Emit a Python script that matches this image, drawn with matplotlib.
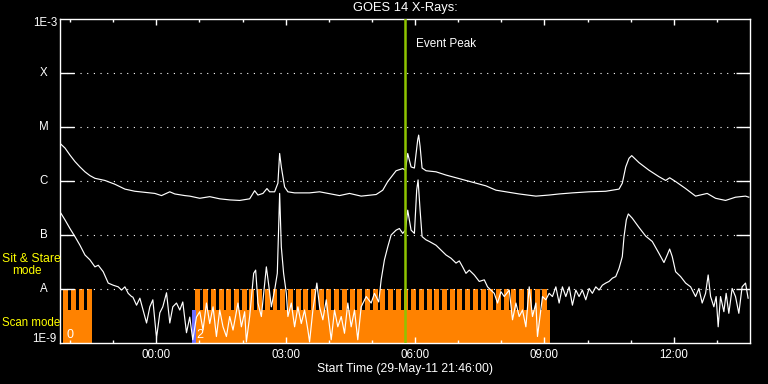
import matplotlib
matplotlib.use("Agg")
import matplotlib.pyplot as plt
from matplotlib.ticker import FixedLocator, NullLocator, NullFormatter
import numpy as np

# ---------------- data (time in hours since 29-May-11 21:46:00) ----------------
long_t = [0.023, 0.116, 0.231, 0.347, 0.463, 0.579, 0.694, 0.810, 1.042, 1.273, 1.505, 1.736,
          1.968, 2.199, 2.354, 2.546, 2.662, 2.894, 3.009, 3.241, 3.472, 3.704, 3.935, 4.167,
          4.398, 4.514, 4.590, 4.706, 4.799, 4.861, 4.977, 5.053, 5.093, 5.132, 5.208, 5.285,
          5.440, 5.787, 6.019, 6.481, 6.713, 6.984, 7.331, 7.484, 7.600, 7.794, 7.947, 8.009,
          8.063, 8.141, 8.218, 8.294, 8.317, 8.350, 8.396, 8.488, 8.720, 8.951, 9.183, 9.414,
          9.646, 9.877, 10.109, 10.340, 10.648, 11.035, 11.343, 11.574, 11.882, 12.269, 12.655,
          12.963, 13.039, 13.118, 13.194, 13.257, 13.426, 13.657, 13.889, 14.044, 14.137, 14.275,
          14.507, 14.738, 15.007, 15.201, 15.433, 15.664, 15.896, 15.972]
long_logflux = [-5.32, -5.39, -5.52, -5.64, -5.74, -5.83, -5.90, -5.95, -5.99, -6.06, -6.15, -6.19,
                -6.21, -6.23, -6.27, -6.20, -6.24, -6.27, -6.28, -6.32, -6.29, -6.33, -6.35, -6.36,
                -6.33, -6.18, -6.26, -6.23, -6.14, -6.20, -6.20, -6.04, -5.49, -5.74, -6.11, -6.20,
                -6.22, -6.22, -6.20, -6.27, -6.23, -6.28, -6.25, -6.17, -6.01, -5.81, -5.77, -5.80,
                -5.49, -5.74, -5.76, -5.24, -5.15, -5.36, -5.76, -5.81, -5.83, -5.89, -5.94, -5.99,
                -6.04, -6.09, -6.17, -6.20, -6.24, -6.28, -6.26, -6.24, -6.22, -6.20, -6.19,
                -6.15, -6.04, -5.74, -5.58, -5.53, -5.66, -5.80, -5.92, -5.99, -5.94, -6.01,
                -6.14, -6.28, -6.23, -6.32, -6.36, -6.30, -6.28, -6.30]

short_t = [0.023, 0.116, 0.231, 0.347, 0.463, 0.579, 0.694, 0.810, 0.887, 1.002, 1.118, 1.234,
           1.350, 1.428, 1.505, 1.581, 1.660, 1.690, 1.775, 1.852, 2.007, 2.083, 2.153, 2.238,
           2.315, 2.384, 2.470, 2.546, 2.616, 2.701, 2.778, 2.847, 2.933, 3.009, 3.079, 3.164,
           3.241, 3.317, 3.396, 3.472, 3.549, 3.627, 3.704, 3.780, 3.859, 3.935, 4.012, 4.127,
           4.206, 4.282, 4.322, 4.398, 4.491, 4.537, 4.590, 4.669, 4.785, 4.845, 4.901, 4.977,
           5.039, 5.093, 5.132, 5.185, 5.248, 5.285, 5.363, 5.440, 5.516, 5.595, 5.671, 5.748,
           5.787, 5.864, 5.956, 6.019, 6.095, 6.174, 6.289, 6.366, 6.442, 6.521, 6.597, 6.674,
           6.752, 6.829, 6.905, 6.984, 7.100, 7.215, 7.292, 7.391, 7.447, 7.523, 7.600, 7.678,
           7.794, 7.870, 7.947, 8.009, 8.063, 8.141, 8.218, 8.271, 8.303, 8.350, 8.396, 8.488,
           8.565, 8.720, 8.836, 8.951, 9.067, 9.183, 9.259, 9.336, 9.414, 9.491, 9.606, 9.722,
           9.838, 9.914, 9.993, 10.069, 10.146, 10.225, 10.301, 10.417, 10.493, 10.572, 10.648,
           10.725, 10.803, 10.880, 10.956, 11.035, 11.072, 11.150, 11.188, 11.266, 11.343, 11.419,
           11.498, 11.574, 11.650, 11.729, 11.806, 11.882, 11.961, 12.037, 12.113, 12.192, 12.269,
           12.345, 12.424, 12.500, 12.576, 12.655, 12.731, 12.808, 12.887, 12.963, 13.039, 13.079,
           13.132, 13.178, 13.271, 13.426, 13.581, 13.734, 13.889, 14.005, 14.081, 14.137, 14.197,
           14.275, 14.391, 14.507, 14.623, 14.738, 14.815, 14.891, 14.970, 15.030, 15.086, 15.162,
           15.215, 15.262, 15.317, 15.394, 15.447, 15.509, 15.586, 15.664, 15.741, 15.817, 15.896,
           15.956]
short_logflux = [-6.60, -6.72, -6.88, -7.03, -7.19, -7.37, -7.46, -7.59, -7.56, -7.68, -7.89, -7.93,
                 -7.96, -8.02, -7.96, -8.08, -8.14, -8.15, -8.30, -8.17, -8.63, -8.33, -8.20, -8.91,
                 -8.44, -8.33, -8.07, -8.63, -8.33, -8.26, -8.39, -8.24, -8.81, -8.52, -8.94, -8.52,
                 -8.42, -8.76, -8.26, -8.64, -8.33, -8.88, -8.39, -8.70, -8.88, -8.51, -8.76, -8.26,
                 -8.70, -8.42, -8.98, -8.51, -7.71, -7.65, -8.26, -8.51, -7.59, -7.96, -8.33, -8.02,
                 -7.71, -6.23, -7.22, -7.71, -8.08, -8.51, -8.26, -8.70, -8.33, -8.64, -8.39, -8.76,
                 -8.98, -8.39, -7.89, -8.33, -8.57, -8.20, -8.94, -8.39, -8.70, -8.51, -8.82, -8.26,
                 -8.70, -8.39, -8.94, -8.33, -8.14, -8.26, -8.08, -8.24, -7.83, -7.46, -7.22, -7.00,
                 -6.91, -6.88, -6.97, -6.91, -6.54, -6.91, -6.97, -6.17, -5.98, -6.54, -7.03, -7.09,
                 -7.12, -7.19, -7.28, -7.37, -7.43, -7.52, -7.48, -7.59, -7.71, -7.65, -7.74, -7.86,
                 -7.83, -7.96, -8.02, -8.08, -8.26, -8.05, -8.14, -8.02, -8.57, -8.26, -8.51,
                 -8.39, -8.70, -7.96, -8.51, -8.26, -8.88, -8.39, -8.14, -8.20, -8.08, -8.14,
                 -7.96, -8.26, -7.96, -8.14, -7.96, -8.30, -8.02, -8.14, -8.02, -8.20, -7.99,
                 -8.08, -7.96, -8.02, -7.93, -7.89, -7.86, -7.80, -7.77, -7.62, -7.40, -7.03,
                 -6.72, -6.61, -6.69, -6.86, -7.02, -7.12, -7.34, -7.51, -7.37, -7.26, -7.40,
                 -7.68, -7.77, -7.89, -7.96, -8.14, -7.99, -8.26, -8.08, -7.74, -8.14, -8.33,
                 -8.14, -8.70, -8.14, -8.42, -8.08, -8.45, -7.99, -8.14, -8.45, -7.96, -7.89,
                 -8.17]

# observing mode: scan-mode intervals (start, end) and sit & stare interval starts
scan_intervals = [(0.069, 0.718), (3.141, 11.366)]
stare_starts = [0.069, 0.255, 0.440, 0.625,
                3.141, 3.320, 3.498, 3.677, 3.856, 4.035, 4.213, 4.392, 4.571, 4.749,
                4.928, 5.107, 5.285, 5.464, 5.643, 5.822, 6.000, 6.179, 6.358, 6.536,
                6.715, 6.894, 7.072, 7.251, 7.430, 7.609, 7.787, 7.966, 8.145, 8.323,
                8.502, 8.681, 8.859, 9.038, 9.217, 9.396, 9.574, 9.753, 9.932, 10.110,
                10.289, 10.468, 10.646, 10.825, 11.004, 11.183]
stare_duration = 0.115
gap_interval = (3.056, 3.148)

scan_level = 10 ** -8.39
stare_level = 1e-8
event_peak = 8.009

x_major = [2.2333, 5.2333, 8.2333, 11.2333, 14.2333]
x_major_labels = ["00:00", "03:00", "06:00", "09:00", "12:00"]
x_minor = [0.2333 + k for k in range(16)]
y_levels = [1e-8, 1e-7, 1e-6, 1e-5, 1e-4]
y_level_labels = ["A", "B", "C", "M", "X"]

# ---------------- figure ----------------
W, H = 768, 384
fig = plt.figure(figsize=(W / 100, H / 100), dpi=100, facecolor="black")
ax = fig.add_axes([60 / W, 1 - 343 / H, 690 / W, 324 / H], facecolor="black")
ax.set_yscale("log")
ax.set_xlim(0, 16)
ax.set_ylim(1e-9, 1e-3)

ORANGE = "#ff8200"
for s, e in scan_intervals:
    ax.bar(s, scan_level - 1e-9, width=e - s, bottom=1e-9, align="edge",
           color=ORANGE, linewidth=0, zorder=1)
for s in stare_starts:
    ax.bar(s, stare_level - 1e-9, width=stare_duration, bottom=1e-9, align="edge",
           color=ORANGE, linewidth=0, zorder=1)
ax.bar(gap_interval[0], scan_level - 1e-9, width=gap_interval[1] - gap_interval[0],
       bottom=1e-9, align="edge", color="#6e6eff", linewidth=0, zorder=1.2)

for lv in y_levels:
    ax.axhline(lv, color="white", linestyle=(0, (1, 5)), linewidth=0.8, zorder=1.5)

ax.plot(long_t, 10 ** np.array(long_logflux), color="white", linewidth=0.85, zorder=3)
ax.plot(short_t, 10 ** np.array(short_logflux), color="white", linewidth=0.85, zorder=3)

ax.axvline(event_peak, color="#8fc400", linewidth=1.8, zorder=4)
ax.text(event_peak + 0.25, 10 ** -3.47, "Event Peak", color="white", fontsize=8.5,
        family="Liberation Sans", va="center", ha="left", zorder=5)

ax.text(0.15, 10 ** -8.85, "0", color="white", fontsize=9, family="Liberation Sans",
        va="center", ha="left", zorder=5)
ax.text(3.16, 10 ** -8.85, "2", color="white", fontsize=9, family="Liberation Sans",
        va="center", ha="left", zorder=5)

# ticks
for sp in ax.spines.values():
    sp.set_color("white")
    sp.set_linewidth(1.0)
ax.xaxis.set_major_locator(FixedLocator(x_major))
ax.xaxis.set_minor_locator(FixedLocator(x_minor))
ax.set_xticklabels(x_major_labels)
ax.yaxis.set_major_locator(FixedLocator(y_levels))
ax.yaxis.set_minor_locator(NullLocator())
ax.yaxis.set_major_formatter(NullFormatter())
ax.tick_params(axis="x", which="major", direction="in", length=4.5, width=1, color="white",
               top=True, bottom=True, labelcolor="white", labelsize=8.3, pad=4)
ax.tick_params(axis="x", which="minor", direction="in", length=2.4, width=1, color="white",
               top=True, bottom=True)
ax.tick_params(axis="y", which="major", direction="in", length=10, width=1, color="white",
               left=True, right=True, labelleft=False)
for lab in ax.get_xticklabels():
    lab.set_family("Liberation Sans")

# y labels
def fy(ypx):
    return 1 - ypx / H

base = dict(family="Liberation Sans", va="center")
fig.text(57 / W, fy(23), "1E-3", ha="right", color="white", fontsize=8.3, **base)
fig.text(56.5 / W, fy(339.5), "1E-9", ha="right", color="white", fontsize=8.3, **base)
for lv, lab in zip(y_levels, y_level_labels):
    ypx = 343 - (np.log10(lv) + 9) * 54
    fig.text(44 / W, fy(ypx), lab, ha="center", color="white", fontsize=8.3, **base)

fig.text(2 / W, fy(259), "Sit & Stare", ha="left", color="#ffff00", fontsize=8.8, **base)
fig.text(12.5 / W, fy(271), "mode", ha="left", color="#ffff00", fontsize=8.5, **base)
fig.text(2 / W, fy(323.5), "Scan mode", ha="left", color="#ffff00", fontsize=8.3, **base)

fig.text(405 / W, fy(8), "GOES 14 X-Rays:", ha="center", color="white", fontsize=9.3, **base)
fig.text(405 / W, fy(369), "Start Time (29-May-11 21:46:00)", ha="center", color="white",
         fontsize=8.8, **base)

fig.savefig("out.png", dpi=100, facecolor="black")
